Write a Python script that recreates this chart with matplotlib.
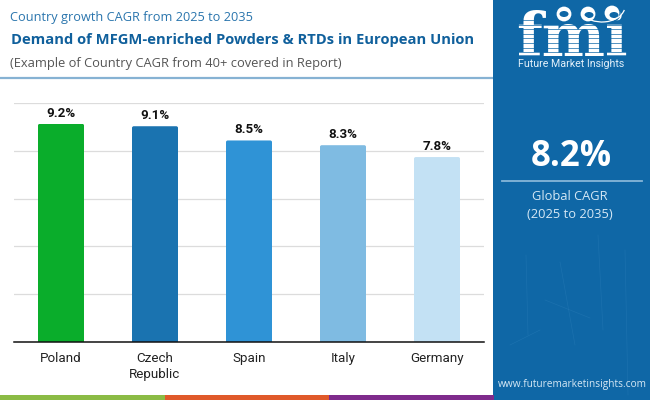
import numpy as np
import matplotlib
matplotlib.use("Agg")
import matplotlib.pyplot as plt
from matplotlib.patches import Rectangle, FancyBboxPatch, Circle, Arc, Ellipse
from matplotlib.transforms import IdentityTransform

countries = ["Poland", "Czech\nRepublic", "Spain", "Italy", "Germany"]
cagr = [9.2, 9.1, 8.5, 8.3, 7.8]
bar_colors = ["#0aad2b", "#1a73b0", "#2f93d6", "#7fbbe2", "#c3e1f4"]
value_labels = ["9.2%", "9.1%", "8.5%", "8.3%", "7.8%"]
strip_colors = ["#8bbb45", "#e0592a", "#7f2b8c"]
PANEL = "#0f67a6"
DARK = "#10609c"
W, H = 650, 400

fig = plt.figure(figsize=(6.5, 4), dpi=100, facecolor="white")

bg = fig.add_axes([0, 0, 1, 1], zorder=0)
bg.set_xlim(0, W); bg.set_ylim(H, 0); bg.axis("off")
bg.add_patch(Rectangle((493, 0), 157, 400, color=PANEL, lw=0))
bg.plot([0, 493], [78, 78], color="#86b2d3", lw=1.6, solid_capstyle="butt")
for i, c in enumerate(strip_colors):
    bg.add_patch(Rectangle((i * 164.7, 395), 164.7, 5, color=c, lw=0))

for xs, ys in [([526, 528], [255, 335]), ([598, 603], [235, 330]), ([545, 590], [300, 318]),
               ([625, 628], [250, 395]), ([510, 540], [345, 330]), ([560, 575], [262, 345])]:
    bg.plot(xs, ys, color="#2a7db8", lw=0.5, alpha=0.45)

ax = fig.add_axes([14 / W, 1 - 342 / H, 470 / W, 239 / H], zorder=1)
ax.patch.set_alpha(0)
x = np.arange(len(countries))
ymax = 10.08
ax.set_xlim(-0.5, 4.5); ax.set_ylim(0, ymax)
ax.set_yticks(np.linspace(0, ymax, 6))
ax.tick_params(axis="y", length=0, labelleft=False)
ax.tick_params(axis="x", length=0, pad=7.5)
ax.grid(axis="y", color="#dcdcdc", lw=0.9)
ax.set_axisbelow(True)
for s in ["top", "left", "right"]:
    ax.spines[s].set_visible(False)
ax.spines["bottom"].set_color("#111111"); ax.spines["bottom"].set_linewidth(1.1)
ax.set_xticks(x)
ax.set_xticklabels(countries, fontsize=9.6, family="Roboto", color="#222222", linespacing=1.25)
bars = ax.bar(x, cagr, width=0.49, color=bar_colors, lw=0)
fig.canvas.draw()
for b, lab in zip(bars, value_labels):
    (x0, y0), (x1, y1) = ax.transData.transform([(b.get_x(), 0), (b.get_x() + b.get_width(), b.get_height())])
    clip = FancyBboxPatch((x0, y0 - 8), x1 - x0, y1 - y0 + 8, boxstyle="round,pad=0,rounding_size=1.8",
                          transform=IdentityTransform())
    b.set_clip_path(clip)
    ax.annotate(lab, (b.get_x() + b.get_width() / 2, b.get_height()), xytext=(0, 3),
                textcoords="offset points", ha="center", va="bottom",
                fontsize=9.6, fontweight="bold", family="Roboto", color="#111111")

bg.text(10, 17.5, "Country growth CAGR from 2025 to 2035", fontsize=9.2, family="Open Sans",
        color="#2a75ad", va="center")
bg.text(11, 40, "Demand of MFGM-enriched Powders & RTDs in European Union", fontsize=10.65,
        family="Open Sans", fontweight="bold", color=DARK, va="center")
bg.text(10, 63, "(Example of Country CAGR from 40+ covered in Report)", fontsize=9.3,
        family="Open Sans", color="#555555", va="center")

# logo
bg.text(516, 56, "fmi", fontsize=43, family="DejaVu Serif", fontweight="bold", color="white",
        ha="left", va="baseline", zorder=3)
for yy in np.arange(20, 56, 4.6):
    bg.plot([512, 630], [yy, yy], color=PANEL, lw=0.5, zorder=4)
for (cx, cy), (dx, dy) in zip([(564, 14), (588, 14), (612, 13)], [(0, 0), (1, 1), (2, 2)]):
    bg.add_patch(Circle((cx, cy), 8.8, color=PANEL, lw=0, zorder=5))
    bg.add_patch(Circle((cx, cy), 7.4, color="white", lw=0, zorder=6))
    bg.add_patch(Ellipse((cx + dx, cy + dy), 9, 6, color=PANEL, lw=0, zorder=7))
bg.add_patch(Arc((602, 6), 46, 32, theta1=10, theta2=160, color="white", lw=0.9, zorder=7))
bg.text(571, 64, "Future Market Insights", fontsize=7.7, family="Roboto", color="#e2f0fa",
        ha="center", va="center", zorder=8)

bg.text(571, 157, "8.2%", fontsize=25, family="Open Sans", fontweight="bold", color="white",
        ha="center", va="center")
bg.plot([502, 642], [181, 181], color="#86b6d8", lw=1.3)
bg.text(570, 197, "Global CAGR", fontsize=9.3, family="Open Sans", color="#d5e8f5",
        ha="center", va="center")
bg.text(570, 214, "(2025 to 2035)", fontsize=9.3, family="Open Sans", color="#d5e8f5",
        ha="center", va="center")
bg.text(572, 384, "www.futuremarketinsights.com", fontsize=7.3, family="Open Sans",
        color="#d5e8f5", ha="center", va="center")

fig.savefig("out.png", dpi=100)
